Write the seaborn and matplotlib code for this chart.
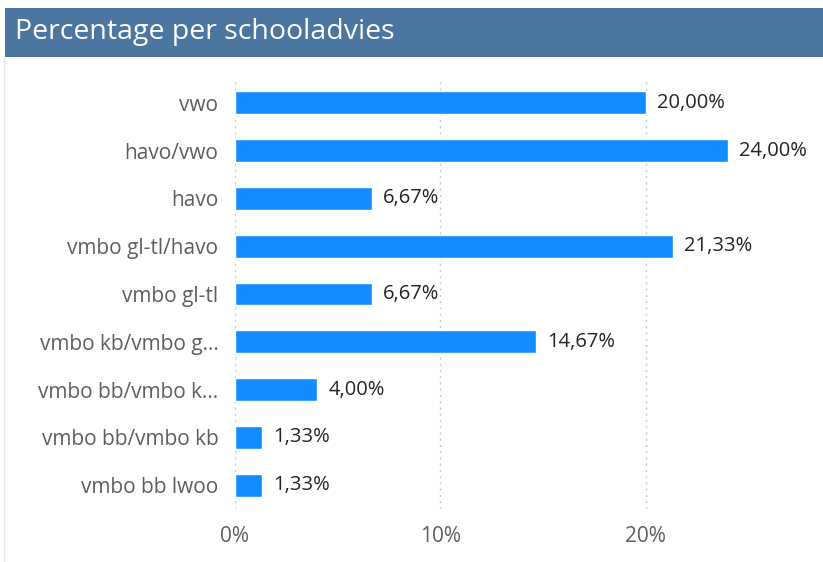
import pandas as pd
import matplotlib.pyplot as plt
import seaborn as sns
from matplotlib.patches import Rectangle
from matplotlib.ticker import FuncFormatter

categories = ['vwo', 'havo/vwo', 'havo', 'vmbo gl-tl/havo', 'vmbo gl-tl',
              'vmbo kb/vmbo g...', 'vmbo bb/vmbo k...', 'vmbo bb/vmbo kb',
              'vmbo bb lwoo']
percentages = [20.00, 24.00, 6.67, 21.33, 6.67, 14.67, 4.00, 1.33, 1.33]
x_ticks = [0, 10, 20]

df = pd.DataFrame({'Schooladvies': categories, 'Percentage': percentages})

sns.set_style('white')
plt.rcParams['font.family'] = ['Open Sans', 'DejaVu Sans']

fig = plt.figure(figsize=(8.23, 5.62), dpi=100)
ax = fig.add_axes([0.2855, 0.0943, 0.6985, 0.7651])

sns.barplot(data=df, x='Percentage', y='Schooladvies', color='#118DFF',
            saturation=1, width=0.48, ax=ax)

for i, v in enumerate(percentages):
    ax.text(v + 0.55, i, f'{v:.2f}%'.replace('.', ','), va='center', ha='left',
            fontsize=14.5, color='#252423')

ax.set_xlim(0, 28)
ax.set_xticks(x_ticks)
ax.xaxis.set_major_formatter(FuncFormatter(lambda v, p: f'{v:.0f}%'))
ax.grid(axis='x', color='#c8c8c8', linestyle=(0, (1.5, 3)), linewidth=1)
ax.set_axisbelow(True)
for s in ax.spines.values():
    s.set_visible(False)
ax.tick_params(axis='both', length=0, labelsize=15, colors='#605e5c')
ax.tick_params(axis='y', pad=12)
ax.tick_params(axis='x', pad=12)
ax.set_xlabel('')
ax.set_ylabel('')

# title bar
fig.patches.append(Rectangle((0.006, 0.8986), 0.994, 0.0872, transform=fig.transFigure,
                             facecolor='#4a76a0', edgecolor='none'))
fig.text(0.018, 0.9422, 'Percentage per schooladvies', color='white',
         fontsize=20.5, va='center', ha='left')
fig.add_artist(plt.Line2D([0.005, 0.005], [0.0, 0.9], color='#e6e6e6',
                          linewidth=1, transform=fig.transFigure))

fig.savefig('out.png', dpi=100)
